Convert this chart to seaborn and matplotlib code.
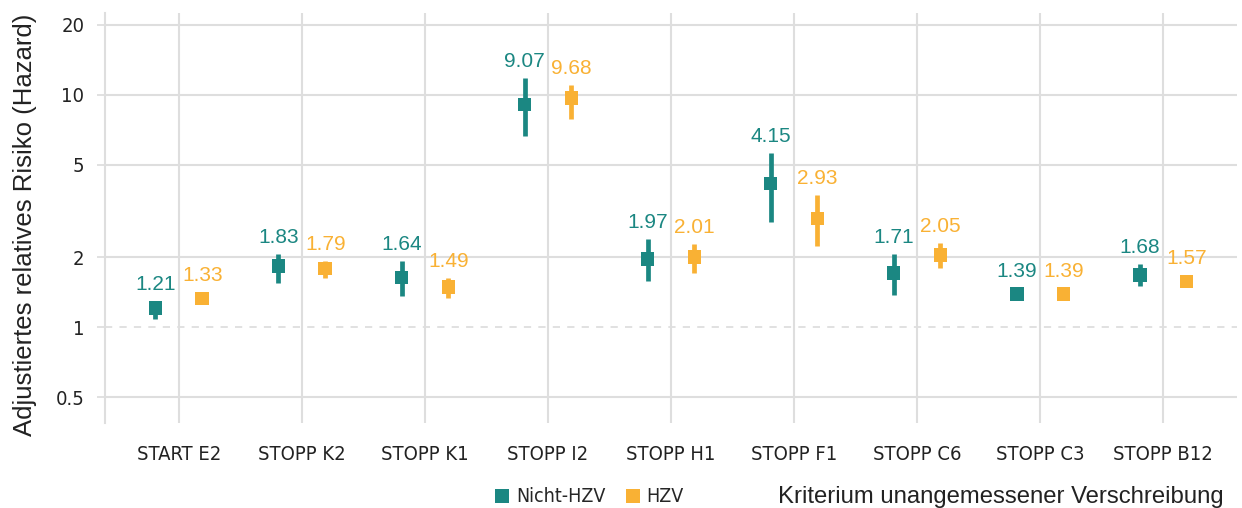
import numpy as np
import pandas as pd
import matplotlib
matplotlib.use("Agg")
import matplotlib.pyplot as plt
from matplotlib.lines import Line2D
from matplotlib import font_manager as fm
import seaborn as sns

categories = ["START E2", "STOPP K2", "STOPP K1", "STOPP I2", "STOPP H1",
              "STOPP F1", "STOPP C6", "STOPP C3", "STOPP B12"]
groups = ["Nicht-HZV", "HZV"]

nicht_hzv = [1.21, 1.83, 1.64, 9.07, 1.97, 4.15, 1.71, 1.39, 1.68]
nicht_hzv_lo = [1.09, 1.55, 1.36, 6.63, 1.58, 2.85, 1.37, 1.33, 1.51]
nicht_hzv_hi = [1.30, 2.07, 1.92, 11.8, 2.39, 5.62, 2.07, 1.45, 1.87]

hzv = [1.33, 1.79, 1.49, 9.68, 2.01, 2.93, 2.05, 1.39, 1.57]
hzv_lo = [1.27, 1.63, 1.33, 7.84, 1.71, 2.23, 1.80, 1.33, 1.50]
hzv_hi = [1.39, 1.93, 1.63, 11.0, 2.28, 3.72, 2.30, 1.45, 1.64]

y_ticks = [0.5, 1, 2, 5, 10, 20]
y_ticklabels = ["0.5", "1", "2", "5", "10", "20"]

colors = {"Nicht-HZV": "#1B8782", "HZV": "#F9B134"}
offsets = {"Nicht-HZV": -0.19, "HZV": 0.19}

rows = []
for g, vals, lo, hi in [("Nicht-HZV", nicht_hzv, nicht_hzv_lo, nicht_hzv_hi),
                        ("HZV", hzv, hzv_lo, hzv_hi)]:
    for i, c in enumerate(categories):
        rows.append(dict(category=c, group=g, value=vals[i], lo=lo[i], hi=hi[i],
                         x=i + offsets[g]))
df = pd.DataFrame(rows)

sns.set_theme(style="white")
regular = ["Liberation Sans", "DejaVu Sans"]
plt.rcParams["font.family"] = regular

# condensed face for tick labels / legend, if available
cond_props = None
for f in fm.fontManager.ttflist:
    if "Narrow" in f.name or ("Condensed" in f.fname and "DejaVuSans" in f.fname
                              and "Bold" not in f.fname and "Oblique" not in f.fname
                              and "Mono" not in f.fname):
        cond_props = fm.FontProperties(fname=f.fname)
        break


def cprops(size):
    if cond_props is None:
        return fm.FontProperties(family=regular, size=size)
    p = cond_props.copy()
    p.set_size(size)
    return p


fig = plt.figure(figsize=(12.42, 5.08), dpi=100)
ax = fig.add_axes([105 / 1242, 1 - 423 / 508, (1237 - 105) / 1242, (423 - 13) / 508])

grid_color = "#DEDEDE"
ax.set_yscale("log")
ax.set_ylim(0.387, 22.5)
ax.set_xlim(-0.6, 8.6)

ax.set_xticks(range(len(categories)))
ax.set_xticklabels(categories, fontproperties=cprops(14.5), color="#222222")
ax.set_yticks(y_ticks)
ax.set_yticklabels(y_ticklabels, fontproperties=cprops(14.5), color="#222222")
ax.yaxis.set_minor_locator(matplotlib.ticker.NullLocator())
ax.grid(True, which="major", color=grid_color, linewidth=1.5)
for tick_val, gl in zip(y_ticks, ax.get_ygridlines()):
    if tick_val == 1:
        gl.set_linestyle((0, (4, 4)))
        gl.set_linewidth(1.3)
ax.set_axisbelow(True)

for s in ["top", "right", "bottom"]:
    ax.spines[s].set_visible(False)
ax.spines["left"].set_color(grid_color)
ax.spines["left"].set_linewidth(1.5)
ax.tick_params(axis="y", length=6, width=1.3, color=grid_color, pad=9, left=True)
ax.tick_params(axis="x", length=0, pad=16)

for g in groups:
    sub = df[df.group == g]
    ax.vlines(sub.x, sub.lo, sub.hi, color=colors[g], linewidth=3.4, zorder=3)

sns.scatterplot(data=df, x="x", y="value", hue="group", palette=colors,
                marker="s", s=95, linewidth=0, ax=ax, legend=False, zorder=4)
ax.set_xlabel("")
ax.set_ylabel("")

for _, r in df.iterrows():
    top = max(r.hi, r.value * 1.066)
    ax.annotate(f"{r.value:.2f}", (r.x, top), xytext=(0, 5), textcoords="offset points",
                ha="center", va="bottom", fontsize=15, color=colors[r.group],
                family=regular)

fig.text(25 / 1242, 1 - 225 / 508, "Adjustiertes relatives Risiko (Hazard)",
         rotation=90, ha="center", va="center", fontsize=18.5, color="#222222")

handles = [Line2D([0], [0], marker="s", linestyle="none", markersize=10,
                  markerfacecolor=colors[g], markeredgewidth=0) for g in groups]
fig.legend(handles, groups, loc="center", bbox_to_anchor=(588 / 1242, 1 - 497 / 508),
           ncol=2, frameon=False, handletextpad=0.2, columnspacing=0.9,
           handlelength=1.0, prop=cprops(14))

fig.text(778 / 1242, 1 - 497 / 508, "Kriterium unangemessener Verschreibung",
         ha="left", va="center", fontsize=17.2, color="#222222")

fig.savefig("out.png", dpi=100)
